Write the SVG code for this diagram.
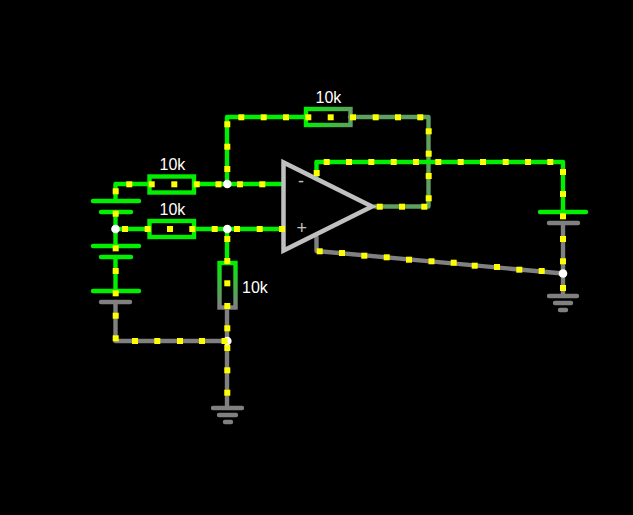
<svg xmlns="http://www.w3.org/2000/svg" width="633" height="515" viewBox="0 0 633 515">
<style>
.w{fill:none;stroke-width:4.4;stroke-linecap:round;stroke-linejoin:round}
.g{stroke:#00f000}.k{stroke:#808080}.m{stroke:#5f9f5f}
.p{fill:none;stroke-width:4.4;stroke-linecap:round}
.r{fill:none;stroke-width:4.4}
.n{fill:#fff}
text{font-family:"Liberation Sans",Arial,sans-serif;font-size:16px;fill:#fff}
.o{fill:#c0c0c0;font-size:18px}
</style>
<defs>
<linearGradient id="gh" gradientUnits="userSpaceOnUse" x1="306" y1="0" x2="350" y2="0"><stop offset="0" stop-color="#00f000"/><stop offset="1" stop-color="#5f9f5f"/></linearGradient>
<linearGradient id="gv" gradientUnits="userSpaceOnUse" x1="0" y1="263" x2="0" y2="307"><stop offset="0" stop-color="#00f000"/><stop offset="1" stop-color="#808080"/></linearGradient>
<rect id="d" x="-3" y="-3" width="6" height="6" fill="#ffff00"/>
</defs>
<rect width="633" height="515" fill="#000"/>
<g id="connectors">
<path class="w g" d="M149 184H115.500V201"/>
<path class="w g" d="M115.500 212V246"/>
<path class="w g" d="M115.500 257V291"/>
<path class="w k" d="M115.500 302V341H227"/>
<path class="w g" d="M115.500 229H149"/>
<path class="w g" d="M194 184H283"/>
<path class="w g" d="M194 229H283"/>
<path class="w g" d="M227 184V117H306"/>
<path class="w g" d="M227 229V263"/>
<path class="w k" d="M227 307V408"/>
<path class="w m" d="M350 117H428.500V206.500H375"/>
<path class="w g" d="M316.500 176V162H563V212"/>
<path class="w k" d="M563 223V296"/>
<path class="w k" d="M316.500 237V251L563 273.500"/>
</g>
<g id="battery-1"><path class="p g" d="M93 201H139M101 212H131"/></g>
<g id="battery-2"><path class="p g" d="M93 246H139M101 257H131"/></g>
<g id="battery-3"><path class="p g" d="M93 291H139"/><path class="p k" d="M101 302H130"/></g>
<g id="battery-4"><path class="p g" d="M540 212H586"/><path class="p k" d="M549 223H578"/></g>
<g id="r1"><rect class="r" x="149.500" y="176.500" width="44.500" height="16" stroke="#00f000"/><text x="159.500" y="170">10k</text></g>
<g id="r2"><rect class="r" x="149.500" y="221" width="44.500" height="16" stroke="#00f000"/><text x="159.500" y="215">10k</text></g>
<g id="r3"><rect class="r" x="306" y="109" width="44.500" height="16" stroke="url(#gh)"/><text x="315.500" y="103">10k</text></g>
<g id="r4"><rect class="r" x="219.500" y="263" width="16" height="44.500" stroke="url(#gv)"/><text x="242" y="293">10k</text></g>
<g id="opamp"><path d="M283.500 162.500V250.500L372 206.500Z" fill="none" stroke="#c0c0c0" stroke-width="4.500" stroke-linejoin="miter"/><text class="o" x="298" y="187">-</text><text class="o" x="296.500" y="234">+</text></g>
<g id="ground-1"><path class="p k" d="M213 408H242M219 415H236M225 422H231"/></g>
<g id="ground-2"><path class="p k" d="M549 296H577M555 303H571M560 310H566"/></g>
<g id="junctions">
<circle class="n" cx="115.500" cy="229" r="4.300"/><circle class="n" cx="227.300" cy="184" r="4.300"/><circle class="n" cx="227.300" cy="229" r="4.300"/><circle class="n" cx="227.300" cy="341" r="4.300"/><circle class="n" cx="563" cy="273.500" r="4.300"/>
</g>
<g id="current-dots">
<use href="#d" x="129.300" y="184.300"/><use href="#d" x="151.700" y="184.300"/><use href="#d" x="174.300" y="184.300"/><use href="#d" x="196.700" y="184.300"/><use href="#d" x="218.500" y="184.300"/><use href="#d" x="240" y="184.300"/><use href="#d" x="262.300" y="184.300"/>
<use href="#d" x="115.700" y="191.300"/><use href="#d" x="115.700" y="213.700"/><use href="#d" x="115.700" y="248.300"/><use href="#d" x="115.700" y="271"/><use href="#d" x="115.700" y="293.300"/><use href="#d" x="115.700" y="315.700"/><use href="#d" x="115.700" y="338.300"/>
<use href="#d" x="125" y="229"/><use href="#d" x="147.700" y="229"/><use href="#d" x="170" y="229"/><use href="#d" x="192.300" y="229"/><use href="#d" x="214.700" y="229"/><use href="#d" x="237" y="229"/><use href="#d" x="259.700" y="229"/><use href="#d" x="282" y="229"/>
<use href="#d" x="227.300" y="124.300"/><use href="#d" x="227.300" y="146.700"/><use href="#d" x="227.300" y="169"/><use href="#d" x="227.300" y="239"/><use href="#d" x="227.300" y="261"/><use href="#d" x="227.300" y="283.300"/><use href="#d" x="227.300" y="306"/><use href="#d" x="227.300" y="328.300"/><use href="#d" x="227.300" y="348"/><use href="#d" x="227.300" y="370.300"/><use href="#d" x="227.300" y="392.700"/>
<use href="#d" x="135" y="341"/><use href="#d" x="157.300" y="341"/><use href="#d" x="180" y="341"/><use href="#d" x="202" y="341"/><use href="#d" x="224.500" y="341"/>
<use href="#d" x="241.300" y="117.300"/><use href="#d" x="263.700" y="117.300"/><use href="#d" x="286" y="117.300"/><use href="#d" x="308.300" y="117.300"/><use href="#d" x="330.700" y="117.300"/><use href="#d" x="353" y="117.300"/><use href="#d" x="375.700" y="117.300"/><use href="#d" x="398" y="117.300"/><use href="#d" x="420.300" y="117.300"/>
<use href="#d" x="428.700" y="131.300"/><use href="#d" x="428.700" y="153.700"/><use href="#d" x="428.700" y="176"/><use href="#d" x="428.700" y="198.300"/>
<use href="#d" x="424.300" y="206.700"/><use href="#d" x="402" y="206.700"/><use href="#d" x="379.700" y="206.700"/>
<use href="#d" x="316.700" y="173"/><use href="#d" x="326.700" y="162"/><use href="#d" x="349" y="162"/><use href="#d" x="371.300" y="162"/><use href="#d" x="393.700" y="162"/><use href="#d" x="416" y="162"/><use href="#d" x="438.300" y="162"/><use href="#d" x="460.700" y="162"/><use href="#d" x="483" y="162"/><use href="#d" x="505.700" y="162"/><use href="#d" x="528" y="162"/><use href="#d" x="550.300" y="162"/>
<use href="#d" x="563" y="172"/><use href="#d" x="563" y="194"/><use href="#d" x="563" y="216.300"/><use href="#d" x="563" y="239"/><use href="#d" x="563" y="261.300"/><use href="#d" x="563" y="288"/>
<use href="#d" x="319.700" y="251.300"/><use href="#d" x="342" y="253"/><use href="#d" x="364.300" y="255.700"/><use href="#d" x="386.700" y="257.300"/><use href="#d" x="409" y="259.700"/><use href="#d" x="431.500" y="261.300"/><use href="#d" x="453.700" y="262.700"/><use href="#d" x="474.700" y="265.700"/><use href="#d" x="497" y="267"/><use href="#d" x="519.300" y="269.700"/><use href="#d" x="541.700" y="271"/>
</g>
</svg>
